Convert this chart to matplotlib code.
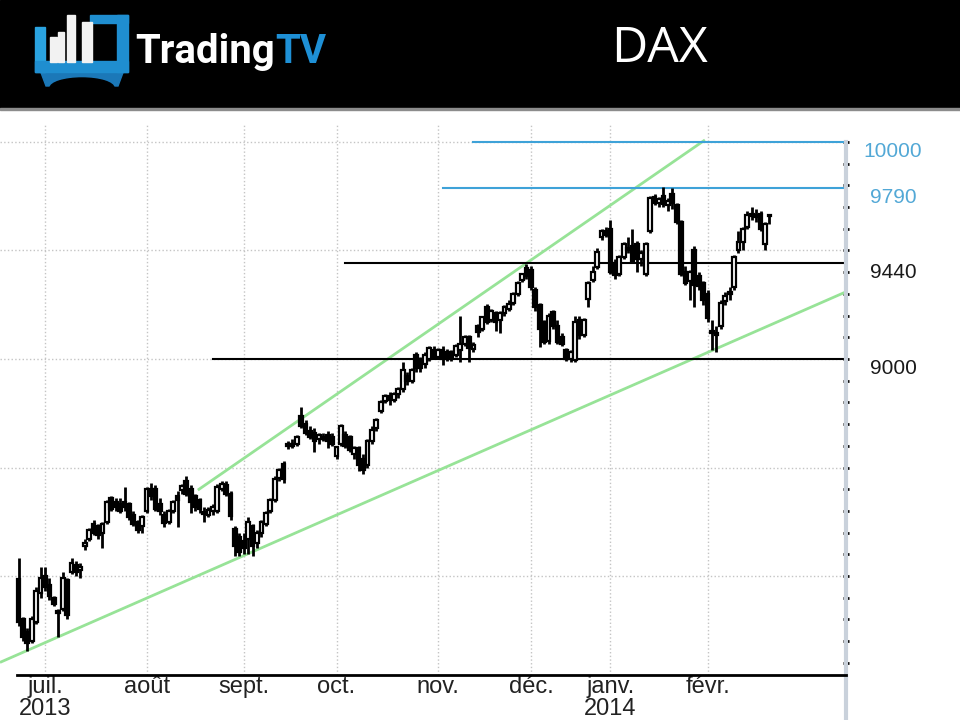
import numpy as np
import matplotlib
matplotlib.use('Agg')
import matplotlib.pyplot as plt
from matplotlib.patches import Rectangle, Polygon, Ellipse

plt.rcParams['font.family'] = ['Liberation Sans', 'DejaVu Sans']

# DAX daily candles, 21 June 2013 .. 21 Feb 2014 (trading-day index)
opens = [7985, 7800, 7740, 7700, 7790, 7920, 8000, 7960, 7900, 7840,
         7850, 7980, 8020, 8050, 8030, 8140, 8170, 8240, 8230, 8200,
         8250, 8360, 8340, 8330, 8340, 8330, 8280, 8250, 8230, 8300,
         8400, 8400, 8330, 8280, 8250, 8300, 8370, 8395, 8440, 8400,
         8370, 8350, 8285, 8280, 8300, 8300, 8400, 8420, 8380, 8215,
         8180, 8160, 8170, 8230, 8150, 8200, 8240, 8300, 8350, 8450,
         8515, 8600, 8610, 8610, 8735, 8700, 8670, 8660, 8630, 8640,
         8650, 8640, 8555, 8610, 8650, 8640, 8560, 8590, 8540, 8510,
         8620, 8680, 8760, 8805, 8830, 8810, 8840, 8860, 8920, 8900,
         9020, 8990, 8975, 9000, 9040, 9010, 9040, 9030, 9030, 9020,
         9040, 9070, 9100, 9045, 9150, 9140, 9240, 9180, 9210, 9180,
         9210, 9230, 9260, 9300, 9365, 9420, 9410, 9320, 9250, 9170,
         9085, 9215, 9150, 9100, 9040, 9000, 8995, 9180, 9110, 9275,
         9365, 9425, 9560, 9590, 9600, 9440, 9390, 9470, 9510, 9520,
         9530, 9460, 9390, 9590, 9745, 9720, 9750, 9710, 9760, 9710,
         9630, 9400, 9360, 9500, 9380, 9350, 9300, 9130, 9110, 9150,
         9265, 9300, 9330, 9500, 9540, 9610, 9665, 9660, 9670, 9530,
         9660]
highs = [8085, 7810, 7760, 7815, 7950, 8040, 8040, 7990, 7910, 7850,
         8020, 7990, 8085, 8070, 8060, 8170, 8220, 8260, 8240, 8250,
         8350, 8370, 8360, 8360, 8410, 8340, 8300, 8260, 8280, 8410,
         8430, 8420, 8360, 8300, 8310, 8350, 8390, 8425, 8460, 8420,
         8380, 8360, 8320, 8320, 8330, 8425, 8440, 8440, 8390, 8230,
         8200, 8200, 8270, 8240, 8210, 8260, 8300, 8360, 8460, 8500,
         8530, 8620, 8630, 8650, 8777, 8720, 8690, 8680, 8660, 8660,
         8670, 8660, 8600, 8700, 8670, 8650, 8600, 8600, 8560, 8630,
         8690, 8730, 8810, 8840, 8850, 8850, 8870, 8985, 8940, 8960,
         9030, 9010, 9030, 9060, 9060, 9050, 9060, 9045, 9040, 9070,
         9196, 9110, 9110, 9080, 9160, 9200, 9255, 9230, 9220, 9220,
         9250, 9270, 9310, 9360, 9395, 9437, 9430, 9330, 9260, 9180,
         9210, 9225, 9180, 9120, 9050, 9040, 9200, 9200, 9190, 9360,
         9430, 9510, 9600, 9610, 9640, 9460, 9480, 9540, 9560, 9600,
         9545, 9500, 9540, 9750, 9760, 9745, 9794, 9740, 9790, 9720,
         9640, 9430, 9410, 9520, 9400, 9360, 9320, 9180, 9150, 9270,
         9310, 9330, 9480, 9590, 9610, 9680, 9700, 9690, 9680, 9630,
         9670]
lows = [7770, 7700, 7655, 7690, 7780, 7900, 7930, 7890, 7860, 7720,
        7840, 7800, 8010, 8000, 7990, 8120, 8160, 8190, 8170, 8130,
        8240, 8300, 8300, 8290, 8300, 8260, 8230, 8200, 8200, 8290,
        8350, 8300, 8280, 8225, 8240, 8290, 8225, 8380, 8370, 8290,
        8300, 8290, 8250, 8270, 8280, 8290, 8390, 8370, 8260, 8090,
        8090, 8100, 8100, 8090, 8130, 8180, 8230, 8290, 8340, 8440,
        8430, 8585, 8590, 8600, 8680, 8650, 8630, 8570, 8610, 8620,
        8590, 8600, 8540, 8600, 8590, 8570, 8540, 8482, 8470, 8500,
        8610, 8670, 8750, 8795, 8790, 8800, 8820, 8850, 8880, 8890,
        8940, 8940, 8960, 8990, 9000, 9000, 8970, 8990, 8990, 9010,
        8985, 9060, 8985, 9030, 9100, 9130, 9160, 9170, 9130, 9120,
        9200, 9220, 9250, 9290, 9355, 9370, 9320, 9220, 9055, 9070,
        9070, 9140, 9070, 9060, 8990, 8985, 8985, 9090, 9100, 9240,
        9355, 9415, 9550, 9560, 9390, 9370, 9380, 9460, 9490, 9440,
        9400, 9430, 9380, 9580, 9710, 9700, 9700, 9680, 9690, 9620,
        9380, 9340, 9270, 9240, 9320, 9250, 9170, 9040, 9030, 9140,
        9250, 9270, 9320, 9490, 9500, 9600, 9640, 9630, 9590, 9500,
        9620]
closes = [7790, 7720, 7690, 7800, 7930, 7990, 7950, 7910, 7870, 7830,
          7990, 7820, 8060, 8020, 8040, 8150, 8210, 8200, 8190, 8240,
          8340, 8310, 8320, 8300, 8320, 8270, 8240, 8210, 8270, 8400,
          8370, 8310, 8300, 8245, 8300, 8340, 8350, 8415, 8380, 8340,
          8320, 8310, 8290, 8305, 8320, 8410, 8425, 8380, 8275, 8140,
          8110, 8130, 8250, 8140, 8200, 8250, 8290, 8350, 8445, 8490,
          8445, 8605, 8600, 8640, 8690, 8660, 8640, 8620, 8650, 8630,
          8620, 8610, 8595, 8690, 8600, 8580, 8590, 8510, 8490, 8620,
          8675, 8720, 8800, 8830, 8810, 8840, 8860, 8950, 8900, 8950,
          8960, 8960, 9020, 9050, 9010, 9040, 9000, 9000, 9010, 9060,
          9070, 9100, 9050, 9065, 9125, 9195, 9170, 9220, 9170, 9210,
          9240, 9255, 9300, 9350, 9390, 9380, 9330, 9240, 9140, 9080,
          9200, 9150, 9080, 9070, 9000, 9030, 9170, 9110, 9180, 9350,
          9400, 9495, 9590, 9570, 9400, 9385, 9470, 9530, 9500, 9450,
          9460, 9490, 9530, 9740, 9720, 9735, 9715, 9730, 9720, 9630,
          9392, 9350, 9400, 9340, 9335, 9270, 9190, 9120, 9115, 9260,
          9290, 9310, 9470, 9540, 9600, 9665, 9660, 9655, 9600, 9620,
          9657]

month_pos = [6, 29, 51, 72, 95, 116, 134, 156]
month_names = ['juil.\n2013', 'août', 'sept.', 'oct.', 'nov.', 'déc.', 'janv.\n2014', 'févr.']

level_vals = [10000, 9790, 9440, 9000]
level_labels = ['10000', '9790', '9440', '9000']
level_start = [102.9, 96.1, 73.9, 44.0]
level_colors = ['#3ea2d8', '#3ea2d8', 'black', 'black']
label_colors = ['#52a8d6', '#52a8d6', '#1a1a1a', '#1a1a1a']

upper_x = [40.6, 155.4]
upper_y = [8396, 10009]
lower_x = [-4.2, 187.3]
lower_y = [7602, 9309]

grid_y = [8000, 8500, 9000, 9500, 10000]

o = np.array(opens)
h = np.array(highs)
l = np.array(lows)
c = np.array(closes)
x = np.arange(len(c))

fig = plt.figure(figsize=(9.6, 7.2), dpi=100, facecolor='white')

# header band + logo
bg = fig.add_axes([0, 0, 1, 1])
bg.set_xlim(0, 960)
bg.set_ylim(720, 0)
bg.axis('off')
bg.add_patch(Rectangle((0, 0), 960, 108, color='black'))
bg.add_patch(Rectangle((0, 108), 960, 2, color='#8c8c8c'))
blue = '#1f8ed0'
bg.add_patch(Polygon([(40, 70), (124, 70), (118, 86), (46, 86)], color='#1b78b8'))
bg.add_patch(Ellipse((82, 88), 64, 20, color='black'))
bg.add_patch(Rectangle((35, 27), 10, 45, color='#2aa3e0'))
bg.add_patch(Rectangle((35, 61), 93, 11, color=blue))
bg.add_patch(Rectangle((117, 15), 11, 57, color=blue))
bg.add_patch(Rectangle((90, 15), 38, 8, color=blue))
for bx, bw, btop in [(50, 7, 37), (58, 6, 32), (67, 8, 15), (82, 10, 22)]:
    bg.add_patch(Rectangle((bx, btop), bw, 62 - btop, color='#f2f2f2'))
t1 = bg.text(135, 63, 'Trading', color='white', fontsize=29, fontweight='bold',
             family=['Roboto', 'DejaVu Sans'], ha='left', va='baseline')
bg.annotate('TV', xy=(1, 0), xycoords=t1, color='#1e90d6', fontsize=29,
            fontweight='bold', family=['Roboto', 'DejaVu Sans'], ha='left', va='bottom')
bg.text(660, 49, 'DAX', color='white', fontsize=36, family=['Open Sans', 'DejaVu Sans'],
        ha='center', va='center')
bg.plot([846, 846], [675, 720], color='#c9d1db', lw=3, solid_capstyle='butt')

# chart
ax = fig.add_axes([0, 1 - 675 / 720, 846 / 960, 550 / 720])
ax.set_xlim(-4.19, 187.34)
ax.set_ylim(7544, 10078)
ax.set_facecolor('none')

for gy in grid_y:
    ax.axhline(gy, color='#c4c4c4', lw=1, ls=':', zorder=0)
for gx in month_pos:
    ax.axvline(gx, color='#c4c4c4', lw=1, ls=':', zorder=0)

ax.plot(upper_x, upper_y, color='#97e397', lw=2, zorder=2, solid_capstyle='butt')
ax.plot(lower_x, lower_y, color='#97e397', lw=2, zorder=2, solid_capstyle='butt')

for v, s, col in zip(level_vals, level_start, level_colors):
    ax.plot([s, 187.34], [v, v], color=col, lw=1.5, zorder=2)

up = c >= o
ax.vlines(x, l, h, color='black', lw=2, zorder=3)
body_low = np.minimum(o, c)
body_h = np.maximum(np.abs(c - o), 8)
ax.bar(x, body_h, bottom=body_low, width=0.85, color=np.where(up, 'white', 'black'),
       edgecolor='black', linewidth=1.6, zorder=4)

for v, lab, col in zip(level_vals, level_labels, label_colors):
    ax.text(1.0556, v, lab, transform=ax.get_yaxis_transform(), ha='center', va='top',
            fontsize=15, color=col, clip_on=False)

for side in ['top', 'left']:
    ax.spines[side].set_visible(False)
ax.spines['bottom'].set_bounds(-0.34, 187.34)
ax.spines['bottom'].set_linewidth(2)
ax.spines['right'].set_color('#c9d1db')
ax.spines['right'].set_linewidth(3)
ax.spines['right'].set_bounds(7544, 10000)

ax.yaxis.tick_right()
ax.set_yticks(np.arange(7600, 10001, 100))
ax.set_yticklabels([])
ax.tick_params(axis='y', direction='inout', length=5, width=2, color='black')

ax.set_xticks(month_pos)
ax.set_xticklabels(month_names, fontsize=17, color='#222222', linespacing=0.95)
ax.tick_params(axis='x', length=0, pad=1)

fig.savefig('out.png', dpi=100, facecolor='white')
